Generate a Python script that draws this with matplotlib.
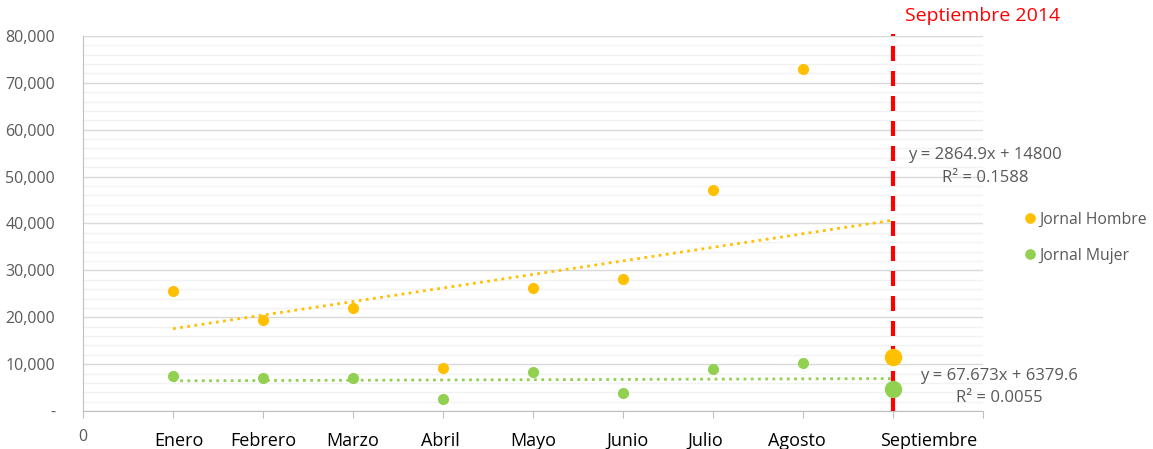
import matplotlib
matplotlib.use("Agg")
import matplotlib.pyplot as plt
import numpy as np
from matplotlib.ticker import MultipleLocator, FuncFormatter

months = ["Enero", "Febrero", "Marzo", "Abril", "Mayo", "Junio", "Julio", "Agosto", "Septiembre"]
month_x = [1, 2, 3, 4, 5, 6, 7, 8, 9]
hombre = [25600, 19400, 22000, 9200, 26200, 28200, 47100, 73000, 11500]
mujer = [7500, 7000, 7000, 2600, 8300, 3800, 9000, 10200, 4700]
eq_hombre = ["y = 2864.9x + 14800", "R² = 0.1588"]
eq_mujer = ["y = 67.673x + 6379.6", "R² = 0.0055"]
series_names = ["Jornal Hombre", "Jornal Mujer"]

C_H = "#FFC000"
C_M = "#92D050"
GRAY = "#595959"

plt.rcParams['font.family'] = ['Open Sans', 'DejaVu Sans']

fig = plt.figure(figsize=(11.53, 4.49), dpi=100)
ax = fig.add_axes([83/1153, 38/449, 900/1153, 375/449])
ax.set_xlim(0, 10)
ax.set_ylim(0, 80000)

ax.yaxis.set_major_locator(MultipleLocator(10000))
ax.yaxis.set_minor_locator(MultipleLocator(2000))
ax.grid(which='major', axis='y', color='#D9D9D9', lw=1)
ax.grid(which='minor', axis='y', color='#F2F2F2', lw=1)
ax.set_axisbelow(True)
ax.yaxis.set_major_formatter(FuncFormatter(lambda v, p: "-" if v == 0 else f"{int(v):,}"))
ax.tick_params(axis='y', which='both', length=0, labelsize=11.5, labelcolor=GRAY, pad=20)

ax.set_xticks(range(0, 11))
ax.set_xticklabels(["0"] + [""] * 10)
ax.tick_params(axis='x', length=5, color='#BFBFBF', labelsize=11.5, labelcolor=GRAY, pad=8)

for s in ['top', 'right']:
    ax.spines[s].set_visible(False)
for s in ['left', 'bottom']:
    ax.spines[s].set_color('#BFBFBF')

xs = np.array(month_x)
# trendlines
for vals, col in [(hombre, C_H), (mujer, C_M)]:
    m, b = np.polyfit(xs, np.array(vals, dtype=float), 1)
    tx = np.array([xs[0], xs[-1]])
    ax.plot(tx, m * tx + b, color=col, lw=2, linestyle=(0, (1, 1.6)), zorder=2)

# points
ax.plot(xs[:-1], hombre[:-1], 'o', color=C_H, ms=7, zorder=3, label=series_names[0])
ax.plot(xs[:-1], mujer[:-1], 'o', color=C_M, ms=7, zorder=3, label=series_names[1])

# red dashed line
ax.axvline(9, ymin=0, ymax=1.005, color='#FF0000', lw=3, linestyle=(0, (3.6, 2.4)), zorder=4, clip_on=False)

ax.plot([xs[-1]], [hombre[-1]], 'o', color=C_H, ms=11.5, zorder=5)
ax.plot([xs[-1]], [mujer[-1]], 'o', color=C_M, ms=11.5, zorder=5)

# month labels
offsets = [0.07, 0, 0, -0.03, 0, 0.05, -0.09, -0.07, 0.4]
for x, lab, off in zip(month_x, months, offsets):
    ax.text(x + off, -0.0925, lab, transform=ax.get_xaxis_transform(), ha='center', va='baseline',
            fontsize=13, color='black')

ax.text(10, 1.03, "Septiembre 2014", transform=ax.get_xaxis_transform(), ha='center', va='bottom',
        fontsize=14, color='#FF0000')

# equations
ax.text(10.02, 54600, eq_hombre[0], ha='center', va='center', fontsize=12, color=GRAY, clip_on=False)
ax.text(10.02, 49700, eq_hombre[1], ha='center', va='center', fontsize=12, color=GRAY, clip_on=False)
ax.text(10.18, 7470, eq_mujer[0], ha='center', va='center', fontsize=12, color=GRAY, clip_on=False)
ax.text(10.18, 2770, eq_mujer[1], ha='center', va='center', fontsize=12, color=GRAY, clip_on=False)

leg = ax.legend(loc='center left', bbox_to_anchor=(1.04, 0.462), frameon=False, handlelength=0.6,
                handletextpad=0.3, labelspacing=1.25, fontsize=11.3, markerscale=0.95,
                borderaxespad=0.0)
for t in leg.get_texts():
    t.set_color(GRAY)

fig.savefig("out.png", dpi=100)
